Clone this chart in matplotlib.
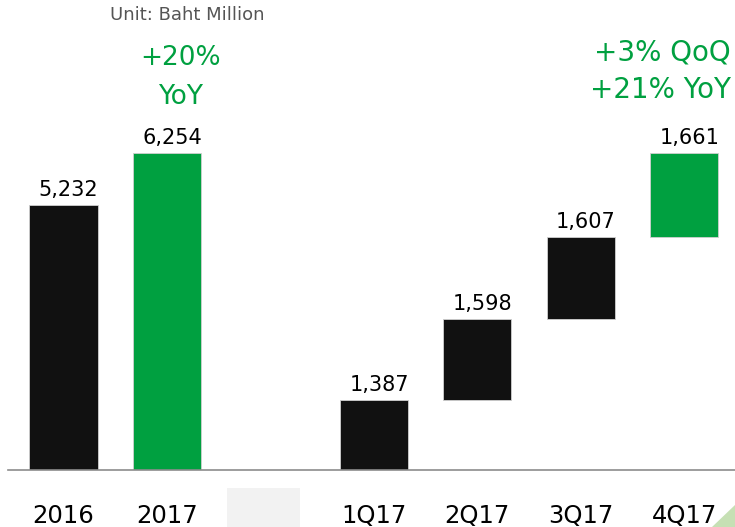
import matplotlib
matplotlib.use("Agg")
import matplotlib.pyplot as plt
from matplotlib.patches import Rectangle, Polygon

categories = ["2016", "2017", "", "1Q17", "2Q17", "3Q17", "4Q17"]
annual_values = [5232, 6254]
quarter_values = [1387, 1598, 1607, 1661]
value_labels = ["5,232", "6,254", "1,387", "1,598", "1,607", "1,661"]

BLACK = "#111111"
GREEN = "#00A040"

W, H = 735, 527
fig = plt.figure(figsize=(W / 100, H / 100), dpi=100)
ax = fig.add_axes([8 / W, 57 / H, 727 / W, 470 / H])

px_per_unit = 317 / 6254
ax.set_ylim(0, 470 / px_per_unit)
xmin = (8 - 63.5) / 103.45
xmax = (735 - 63.5) / 103.45
ax.set_xlim(xmin, xmax)

bw = 0.66
# annual bars
ax.bar([0, 1], annual_values, width=bw, color=[BLACK, GREEN], edgecolor="#d0d0d0", linewidth=0.6)
# waterfall quarters
bottoms = []
acc = 0
for v in quarter_values:
    bottoms.append(acc)
    acc += v
qcolors = [BLACK, BLACK, BLACK, GREEN]
ax.bar([3, 4, 5, 6], quarter_values, bottom=bottoms, width=bw, color=qcolors,
       edgecolor="#d0d0d0", linewidth=0.6)

tops = annual_values + [b + v for b, v in zip(bottoms, quarter_values)]
xs = [0, 1, 3, 4, 5, 6]
for x, t, lab in zip(xs, tops, value_labels):
    ax.text(x + 0.05, t + 5 / px_per_unit, lab, ha="center", va="bottom",
            fontsize=15, color="black", family="DejaVu Sans")

for s in ["top", "right", "left"]:
    ax.spines[s].set_visible(False)
ax.spines["bottom"].set_color("#8c8c8c")
ax.spines["bottom"].set_linewidth(1.2)
ax.set_yticks([])
ax.set_xticks([])

# category labels
cat_family = ["Liberation Sans Narrow", "DejaVu Sans"]
for i, c in enumerate(categories):
    if c:
        ax.text(i, -46 / px_per_unit, c, ha="center", va="center", fontsize=17.5,
                family=cat_family, color="black")

# grey placeholder box under the gap
fig.patches.append(Rectangle((227 / W, 0), 73 / W, 39 / H, transform=fig.transFigure,
                             facecolor="#f2f2f2", edgecolor="none"))
# green corner triangle
fig.patches.append(Polygon([(712 / W, 0), (1, 0), (1, 22 / H)], closed=True,
                           transform=fig.transFigure, facecolor="#c6e0b4", edgecolor="none"))

# annotations
fig.text(187 / W, 1 - 15 / H, "Unit: Baht Million", ha="center", va="center",
         fontsize=13, color="#555555", family="DejaVu Sans")
fig.text(181 / W, 1 - 58 / H, "+20%", ha="center", va="center", fontsize=19, color=GREEN)
fig.text(181 / W, 1 - 97 / H, "YoY", ha="center", va="center", fontsize=19, color=GREEN)
fig.text(731 / W, 1 - 52 / H, "+3% QoQ", ha="right", va="center", fontsize=20, color=GREEN)
fig.text(731 / W, 1 - 90 / H, "+21% YoY", ha="right", va="center", fontsize=20, color=GREEN)

fig.savefig("out.png", dpi=100)
